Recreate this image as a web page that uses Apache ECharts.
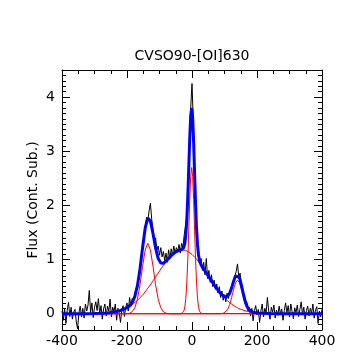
<!DOCTYPE html>
<html><head><meta charset="utf-8">
<script src="https://cdn.jsdelivr.net/npm/echarts@6/dist/echarts.min.js"></script>
<style>html,body{margin:0;padding:0;background:#fff}#c{width:359px;height:352px}</style>
</head><body><div id="c"></div>
<script>
const chartTitle = 'CVSO90-[OI]630';
const yTitle = 'Flux (Cont. Sub.)';
const yMajorTicks = [0, 1, 2, 3, 4];

// observed spectrum (black), velocity grid start/step in km/s
const obsStart = -400, obsStep = 4;
const obsFlux = [
  0.05,-0.12,0.10,-0.18,0.06,0.21,-0.05,0.12,-0.10,0.03,
  0.08,-0.15,-0.28,0.02,0.14,-0.06,0.10,-0.08,0.18,0.05,
  0.16,0.43,0.02,0.20,-0.07,0.12,0.22,0.06,0.28,0.00,
  0.15,-0.10,0.09,0.18,-0.04,0.14,0.05,0.27,-0.06,0.12,
  0.04,0.18,-0.12,0.10,0.02,-0.16,0.08,0.15,-0.05,0.12,
  0.20,0.05,0.30,0.14,0.28,0.22,0.38,0.35,0.55,0.62,
  0.80,1.10,1.18,1.45,1.52,1.78,1.72,1.90,2.04,1.75,
  1.55,1.32,1.40,1.18,1.25,1.08,1.22,1.05,1.15,0.98,
  1.12,0.95,1.18,1.02,1.20,1.08,1.25,1.12,1.22,1.15,
  1.28,1.12,1.30,1.22,1.45,1.62,1.80,2.38,3.15,3.80,
  4.25,3.55,2.70,1.85,1.30,1.15,0.92,1.02,0.80,0.95,
  0.72,1.02,0.65,0.80,0.58,0.72,0.50,0.62,0.45,0.55,
  0.38,0.50,0.30,0.42,0.25,0.35,0.22,0.38,0.28,0.40,
  0.48,0.45,0.62,0.70,0.78,0.92,0.68,0.75,0.52,0.45,
  0.35,0.18,0.22,0.05,0.12,-0.04,0.10,-0.13,0.06,0.15,
  -0.02,0.08,-0.16,0.05,0.18,-0.06,0.10,0.02,0.30,0.05,
  -0.10,0.12,0.03,0.16,-0.08,0.07,-0.03,0.14,0.00,0.09,
  -0.12,0.06,0.20,0.02,0.15,-0.06,0.18,0.04,-0.09,0.11,
  0.02,0.16,-0.05,0.08,0.22,-0.02,0.12,-0.10,0.06,0.14,
  -0.04,0.10,0.01,0.18,-0.08,0.07,0.13,-0.18,0.05,-0.06,0.08
];

// total fit (blue)
const fitVel = [-400,-380,-360,-340,-320,-300,-280,-260,-240,-220,
  -208,-200,-192,-184,-176,-168,-160,-152,-144,-136,-128,-120,-112,-104,-96,-88,-80,-72,-64,
  -56,-48,-40,-34,
  -31,-28,-25,-22,-19,-16,-13,-10,-7,-4,-1,2,5,8,11,14,17,20,23,26,29,
  34,40,48,56,64,72,80,86,
  92,98,104,110,116,122,128,134,140,146,152,158,164,170,176,182,188,
  200,220,240,260,280,300,350,400];
const fitFlux = [0,0,0,0,0.001,0.003,0.007,0.015,0.032,0.061,
  0.088,0.112,0.147,0.205,0.315,0.515,0.828,1.223,1.584,1.769,1.714,1.482,1.213,1.020,0.935,0.932,0.971,1.021,1.073,
  1.116,1.149,1.170,1.180,
  1.185,1.197,1.228,1.302,1.455,1.730,2.149,2.683,3.235,3.653,3.801,3.622,3.172,2.589,2.025,1.575,1.271,1.089,0.987,0.929,0.891,
  0.843,0.789,0.716,0.643,0.571,0.502,0.437,0.391,
  0.351,0.319,0.305,0.320,0.377,0.479,0.602,0.701,0.730,0.665,0.528,0.367,0.225,0.128,0.071,0.041,0.028,
  0.015,0.007,0.003,0.001,0,0,0,0];

// components (red)
const compBlueVel = [-400,-208,-200,-192,-184,-176,-168,-160,-152,-144,-136,-128,-120,-112,-104,-96,-88,-80,-72,-64,400];
const compBlueFlux = [0,0,0.002,0.010,0.037,0.110,0.268,0.534,0.876,1.178,1.30,1.178,0.876,0.534,0.268,0.110,0.037,0.010,0.002,0,0];

const compNarrowVel = [-400,-34,-31,-28,-25,-22,-19,-16,-13,-10,-7,-4,-1,2,5,8,11,14,17,20,23,26,29,32,400];
const compNarrowFlux = [0,0,0.005,0.017,0.050,0.128,0.287,0.569,0.997,1.541,2.105,2.537,2.70,2.537,2.105,1.541,0.997,0.569,0.287,0.128,0.050,0.017,0.005,0,0];

const compBroadVel = [-400,-330,-320,-310,-300,-290,-280,-270,-260,-250,-240,-230,-220,-210,-200,-190,-180,-170,-160,-150,-140,-130,-120,-110,-100,-90,-80,-70,-60,-50,-40,-30,
  -20,-10,0,10,20,30,40,50,60,70,80,90,100,110,120,130,140,150,160,170,180,190,200,210,220,230,240,250,260,270,400];
const compBroadFlux = [0,0.001,0.001,0.002,0.003,0.005,0.007,0.010,0.015,0.022,0.032,0.044,0.061,0.082,0.110,0.144,0.186,0.236,0.294,0.361,0.437,0.519,0.606,0.697,0.789,0.878,0.961,1.035,1.096,1.142,1.170,1.18,
  1.170,1.142,1.096,1.035,0.961,0.878,0.789,0.697,0.606,0.519,0.437,0.361,0.294,0.236,0.186,0.144,0.110,0.082,0.061,0.044,0.032,0.022,0.015,0.010,0.007,0.005,0.003,0.002,0.001,0.001,0];

const compRedVel = [-400,86,92,98,104,110,116,122,128,134,140,146,152,158,164,170,176,182,188,194,400];
const compRedFlux = [0,0,0.004,0.012,0.035,0.084,0.172,0.302,0.450,0.572,0.62,0.572,0.450,0.302,0.172,0.084,0.035,0.012,0.004,0,0];

function pairs(xs, ys) { return xs.map((x, i) => [x, ys[i]]); }
const obsData = obsFlux.map((f, i) => [obsStart + obsStep * i, f]);
const yMinorTicks = [];
for (let k = -2; k <= 45; k++) yMinorTicks.push(Math.round(k) / 10);

const FONT = 'DejaVu Sans';
const black = '#000000';
function xAx(pos, showLabel) {
  return {
    type: 'value', position: pos, min: -400, max: 400, interval: 200,
    axisLine: { show: true, onZero: false, lineStyle: { color: black, width: 1 } },
    axisTick: { show: true, inside: true, length: 8, lineStyle: { color: black, width: 1 } },
    minorTick: { show: true, splitNumber: 4, length: 4, lineStyle: { color: black, width: 1 } },
    splitLine: { show: false }, minorSplitLine: { show: false },
    axisLabel: { show: showLabel, color: black, fontSize: 14, fontFamily: FONT, margin: 4 }
  };
}
function yAx(pos, major, showLabel) {
  const vals = major ? yMajorTicks : yMinorTicks;
  const o = {
    type: 'value', position: pos, min: -0.3, max: 4.5,
    axisLine: { show: major, onZero: false, lineStyle: { color: black, width: 1 } },
    axisTick: { show: true, inside: true, length: major ? 8 : 4, customValues: vals, lineStyle: { color: black, width: 1 } },
    splitLine: { show: false },
    axisLabel: { show: showLabel, customValues: yMajorTicks, color: black, fontSize: 14, fontFamily: FONT, margin: 7 }
  };
  if (showLabel) {
    o.name = yTitle; o.nameLocation = 'middle'; o.nameGap = 22; o.nameMoveOverlap = false;
    o.nameTextStyle = { color: black, fontSize: 14, fontFamily: FONT };
  }
  return o;
}

const chart = echarts.init(document.getElementById('c'), null, { renderer: 'canvas' });
chart.setOption({
  animation: false,
  backgroundColor: '#ffffff',
  title: { text: chartTitle, left: 192, top: 49, textAlign: 'center', padding: 0,
    textStyle: { color: black, fontSize: 14, fontWeight: 'normal', fontFamily: FONT } },
  grid: { left: 62, right: 37, top: 70, bottom: 22, containLabel: false },
  xAxis: [xAx('bottom', true), xAx('top', false)],
  yAxis: [yAx('left', true, true), yAx('left', false, false), yAx('right', true, false), yAx('right', false, false)],
  series: [
    { type: 'line', data: obsData, showSymbol: false, lineStyle: { color: black, width: 1 }, clip: true, z: 2 },
    { type: 'line', data: pairs(compBlueVel, compBlueFlux), showSymbol: false, lineStyle: { color: '#ff0000', width: 1 }, z: 3 },
    { type: 'line', data: pairs(compNarrowVel, compNarrowFlux), showSymbol: false, lineStyle: { color: '#ff0000', width: 1 }, z: 3 },
    { type: 'line', data: pairs(compBroadVel, compBroadFlux), showSymbol: false, lineStyle: { color: '#ff0000', width: 1 }, z: 3 },
    { type: 'line', data: pairs(compRedVel, compRedFlux), showSymbol: false, lineStyle: { color: '#ff0000', width: 1 }, z: 3 },
    { type: 'line', data: pairs(fitVel, fitFlux), showSymbol: false, lineStyle: { color: '#0000ff', width: 3 }, z: 4 }
  ]
});
</script>
</body></html>
